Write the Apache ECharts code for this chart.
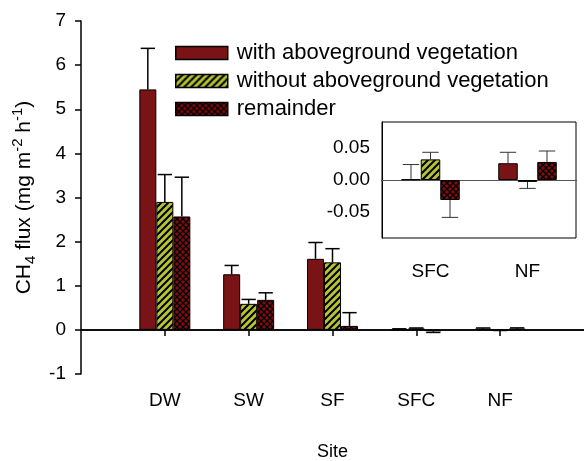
<!DOCTYPE html>
<html><head><meta charset="utf-8">
<script src="https://cdn.jsdelivr.net/npm/echarts@6/dist/echarts.min.js"></script>
<style>html,body{margin:0;padding:0;background:#fff}#c{width:584px;height:461px}</style>
</head><body><div id="c"></div>
<script>
const categories = ['DW', 'SW', 'SF', 'SFC', 'NF'];
const insetCategories = ['SFC', 'NF'];
const seriesNames = ['with aboveground vegetation', 'without aboveground vegetation', 'remainder'];
const withVeg = [5.45, 1.26, 1.61, 0.001, 0.026];
const withVegErr = [0.93, 0.20, 0.37, 0.023, 0.017];
const withoutVeg = [2.90, 0.59, 1.53, 0.032, -0.003];
const withoutVegErr = [0.62, 0.10, 0.31, 0.011, 0.010];
const remainder = [2.57, 0.68, 0.09, -0.031, 0.028];
const remainderErr = [0.89, 0.16, 0.30, 0.027, 0.017];
const yTicks = [-1, 0, 1, 2, 3, 4, 5, 6, 7];
const insetTicks = [-0.05, 0.00, 0.05];

const RED = '#7a1315', GREEN = '#b6c433';
function hatch() {
  const n = 7;
  const c = document.createElement('canvas'); c.width = n; c.height = n;
  const g = c.getContext('2d'); g.fillStyle = GREEN; g.fillRect(0, 0, n, n);
  g.strokeStyle = '#000'; g.lineWidth = 2;
  g.beginPath();
  for (let o = -n; o <= n; o += n) { g.moveTo(o - 1, n + 1); g.lineTo(o + n + 1, -1); }
  g.stroke();
  return { image: c, repeat: 'repeat' };
}
function cross() {
  const c = document.createElement('canvas'); c.width = 6; c.height = 6;
  const g = c.getContext('2d'); g.fillStyle = '#820c0e'; g.fillRect(0, 0, 6, 6);
  g.strokeStyle = '#000'; g.lineWidth = 1.3;
  g.beginPath(); g.moveTo(-1, 7); g.lineTo(7, -1); g.moveTo(-1, -1); g.lineTo(7, 7); g.stroke();
  return { image: c, repeat: 'repeat' };
}
const fills = [RED, hatch(), cross()];

const mainCats = [''].concat(categories, ['']);
const pad = a => ['-'].concat(a, ['-']);
const vals = [withVeg, withoutVeg, remainder];
const errs = [withVegErr, withoutVegErr, remainderErr];
const insetIdx = insetCategories.map(c => categories.indexOf(c));

const font = 'Liberation Sans, Arial, sans-serif';
const BW = 17, IBW = 19.5;

function errSeries(k, xi, yi, data, bw, lw, col, z) {
  return {
    type: 'custom', xAxisIndex: xi, yAxisIndex: yi, silent: true, z: z,
    data: data,
    renderItem: function (params, api) {
      const p0 = api.coord([api.value(0), api.value(1)]);
      const p1 = api.coord([api.value(0), api.value(2)]);
      const x = p0[0] + (k - 1) * bw;
      const hw = bw * 0.42;
      return { type: 'group', children: [
        { type: 'line', shape: { x1: x, y1: p0[1], x2: x, y2: p1[1] }, style: { stroke: col, lineWidth: lw } },
        { type: 'line', shape: { x1: x - hw, y1: p1[1], x2: x + hw, y2: p1[1] }, style: { stroke: col, lineWidth: lw } }
      ]};
    }
  };
}

const series = [];
for (let k = 0; k < 3; k++) {
  const s = {
    name: seriesNames[k], type: 'bar', xAxisIndex: 0, yAxisIndex: 0,
    data: pad(vals[k]), barWidth: BW, barGap: '0%', z: 2,
    itemStyle: { color: fills[k], borderColor: '#000', borderWidth: 1 }
  };
  if (k === 0) s.markLine = { silent: true, symbol: 'none', label: { show: false },
    lineStyle: { color: '#000', width: 1.5, type: 'solid' }, data: [{ yAxis: 0 }] };
  series.push(s);
}
for (let k = 0; k < 3; k++) {
  series.push(errSeries(k, 0, 0, vals[k].map((v, i) => [i + 1, v, v + (v < 0 ? -errs[k][i] : errs[k][i])]), BW, 1.5, '#000', 1));
}
for (let k = 0; k < 3; k++) {
  const s = {
    name: seriesNames[k], type: 'bar', xAxisIndex: 1, yAxisIndex: 1,
    data: insetIdx.map(i => vals[k][i]), barWidth: IBW, barGap: '0%', z: 10,
    itemStyle: { color: fills[k], borderColor: '#000', borderWidth: 1 }
  };
  if (k === 0) s.markLine = { silent: true, symbol: 'none', label: { show: false }, z: 9,
    lineStyle: { color: '#555', width: 1, type: 'solid' }, data: [{ yAxis: 0 }] };
  series.push(s);
}
for (let k = 0; k < 3; k++) {
  series.push(errSeries(k, 1, 1, insetIdx.map((i, j) => {
    const v = vals[k][i]; return [j, v, v + (v < 0 ? -errs[k][i] : errs[k][i])];
  }), IBW, 1, '#333', 9));
}

const chart = echarts.init(document.getElementById('c'), null, { renderer: 'canvas' });
chart.setOption({
  animation: false,
  backgroundColor: '#fff',
  textStyle: { fontFamily: font, color: '#000' },
  legend: {
    data: seriesNames, left: 170, top: 37, orient: 'vertical', icon: 'rect',
    itemWidth: 52, itemHeight: 13, itemGap: 6,
    itemStyle: { borderColor: '#000', borderWidth: 1.5 },
    textStyle: { fontSize: 22, color: '#000', fontFamily: font, padding: [0, 0, 0, 4] },
    selectedMode: false
  },
  grid: [
    { left: 81, top: 21, right: 0, bottom: 87, containLabel: false, outerBoundsMode: 'none' },
    { left: 382, top: 122, width: 194, height: 116, show: true, borderColor: '#000', borderWidth: 1, backgroundColor: '#fff', z: 5, outerBoundsMode: 'none' }
  ],
  xAxis: [
    { type: 'category', gridIndex: 0, data: mainCats, boundaryGap: false,
      axisLine: { lineStyle: { color: '#000', width: 1.5 } },
      axisTick: { length: 6, lineStyle: { color: '#000', width: 1.5 }, interval: i => i >= 1 && i <= categories.length },
      axisLabel: { interval: 0, fontSize: 19, color: '#000', margin: 17 },
      name: 'Site', nameLocation: 'middle', nameGap: 69, nameTextStyle: { fontSize: 18, color: '#000' } },
    { type: 'category', gridIndex: 1, data: insetCategories, z: 6,
      axisLine: { lineStyle: { color: '#000', width: 1 } },
      axisTick: { alignWithLabel: true, length: 4, lineStyle: { color: '#000' } },
      axisLabel: { fontSize: 19, color: '#000', margin: 24 } }
  ],
  yAxis: [
    { type: 'value', gridIndex: 0, min: yTicks[0], max: yTicks[yTicks.length - 1], interval: 1,
      splitLine: { show: false },
      axisLine: { show: true, lineStyle: { color: '#000', width: 1.5 } },
      axisTick: { show: true, length: 6, lineStyle: { color: '#000', width: 1.5 } },
      axisLabel: { fontSize: 19, color: '#000', margin: 15 },
      name: 'CH{sub|4} flux (mg m{sup|-2} h{sup|-1})', nameLocation: 'middle', nameRotate: 90, nameGap: 27,
      nameTextStyle: { fontSize: 21, color: '#000', lineHeight: 28,
        rich: { sub: { fontSize: 15, verticalAlign: 'bottom', lineHeight: 26, color: '#000' },
                sup: { fontSize: 15, verticalAlign: 'top', lineHeight: 16, color: '#000' } } } },
    { type: 'value', gridIndex: 1, min: -0.09, max: 0.09, interval: 0.01, z: 6,
      splitLine: { show: false },
      axisLine: { show: true, lineStyle: { color: '#000', width: 1 } },
      axisTick: { show: false },
      axisLabel: { fontSize: 19, color: '#000', margin: 12,
        formatter: v => { const m = insetTicks.find(t => Math.abs(t - v) < 1e-6); return m === undefined ? '' : m.toFixed(2); } } }
  ],
  series: series
});
</script></body></html>
